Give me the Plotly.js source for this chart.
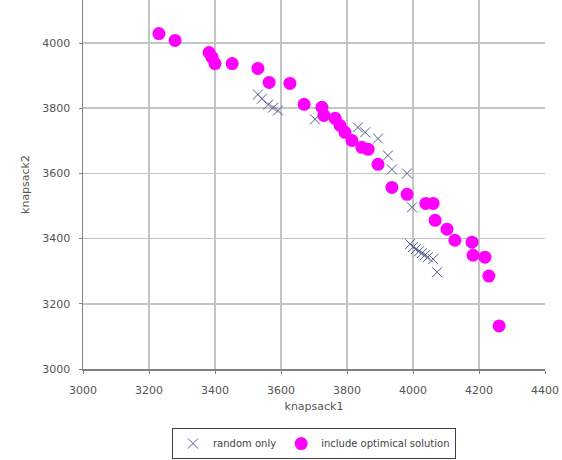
<!DOCTYPE html>
<html>
<head>
<meta charset="utf-8">
<script src="https://cdn.plot.ly/plotly-3.0.1.min.js"></script>
<style>html,body{margin:0;padding:0;background:#fff;}#chart{width:562px;height:460px;}</style>
</head>
<body>
<div id="chart"></div>
<script>
// random only
const randomX = [3530, 3542, 3561, 3576, 3591, 3703, 3833, 3855, 3894, 3924, 3936, 3982, 3997, 3991, 4000, 4009, 4018, 4027, 4036, 4045, 4061, 4073];
const randomY = [3842, 3829, 3811, 3802, 3793, 3766, 3741, 3726, 3707, 3655, 3612, 3600, 3496, 3383, 3374, 3368, 3361, 3355, 3349, 3343, 3337, 3297];
// include optimical solution
const optX = [3230, 3279, 3382, 3391, 3400, 3452, 3530, 3564, 3627, 3670, 3724, 3730, 3764, 3779, 3794, 3815, 3845, 3864, 3894, 3936, 3982, 4039, 4061, 4067, 4103, 4127, 4179, 4182, 4218, 4230, 4261];
const optY = [4029, 4008, 3971, 3956, 3937, 3937, 3922, 3879, 3876, 3812, 3803, 3778, 3769, 3747, 3726, 3701, 3680, 3674, 3628, 3557, 3536, 3508, 3508, 3456, 3429, 3395, 3389, 3349, 3343, 3285, 3132];
const seriesNames = ['random only', 'include optimical solution'];
const xTicks = [3000, 3200, 3400, 3600, 3800, 4000, 4200, 4400];
const yTicks = [3000, 3200, 3400, 3600, 3800, 4000];

const fam = '"DejaVu Sans", "Noto Sans CJK JP", sans-serif';
const tickFont = {family: fam, size: 11, color: '#555'};
const titleFont = {family: fam, size: 11, color: '#555'};

const traces = [
  {
    x: optX, y: optY, name: seriesNames[1], type: 'scatter', mode: 'markers',
    marker: {symbol: 'circle', size: 13, color: '#ff00ff'}
  },
  {
    x: randomX, y: randomY, name: seriesNames[0], type: 'scatter', mode: 'markers',
    marker: {symbol: 'x-thin-open', size: 10, color: '#525c96', line: {width: 1, color: '#525c96'}}
  }
];

const layout = {
  width: 562, height: 460,
  margin: {l: 83, r: 17, t: 0, b: 91, autoexpand: false},
  paper_bgcolor: '#ffffff', plot_bgcolor: '#ffffff',
  font: {family: fam, size: 11, color: '#555'},
  showlegend: true,
  legend: {
    orientation: 'h', x: 0.5, xanchor: 'center', y: -0.16, yanchor: 'top',
    traceorder: 'reversed',
    bordercolor: '#404040', borderwidth: 1, font: {family: fam, size: 10, color: '#444'},
    itemwidth: 30, tracegroupgap: 0
  },
  xaxis: {
    range: [3000, 4400], tickvals: xTicks, ticktext: xTicks.map(String),
    tickfont: tickFont,
    showgrid: true, gridcolor: '#c4c4c4', gridwidth: 1.5,
    showline: true, linecolor: '#808080', linewidth: 1.5,
    ticks: 'outside', ticklen: 3, tickcolor: '#808080',
    ticklabelstandoff: 7,
    zeroline: false,
    title: {text: 'knapsack1', standoff: 6, font: titleFont}
  },
  yaxis: {
    range: [3000, 4132], tickvals: yTicks, ticktext: yTicks.map(String),
    tickfont: tickFont,
    showgrid: true, gridcolor: '#c4c4c4', gridwidth: 1.5,
    showline: true, linecolor: '#808080', linewidth: 1.5,
    ticks: 'outside', ticklen: 3, tickcolor: '#808080',
    ticklabelstandoff: 6,
    zeroline: false,
    title: {text: 'knapsack2', standoff: 10, font: titleFont}
  }
};

Plotly.newPlot('chart', traces, layout, {displayModeBar: false, staticPlot: true});
</script>
</body>
</html>
